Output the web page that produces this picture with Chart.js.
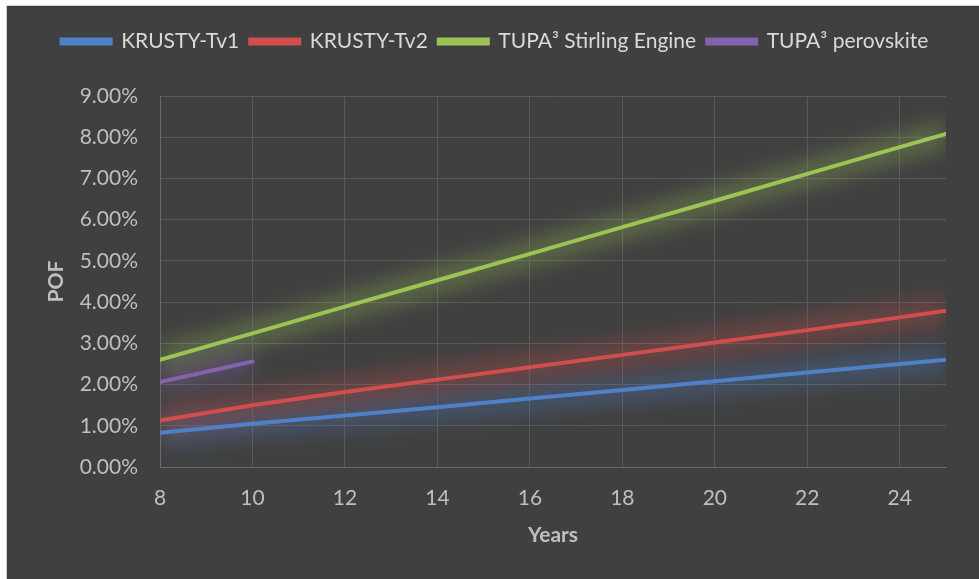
<!DOCTYPE html>
<html>
<head>
<meta charset="utf-8">
<script src="https://cdn.jsdelivr.net/npm/chart.js@4/dist/chart.umd.min.js"></script>
<style>
  html, body { margin: 0; padding: 0; background: #ffffff; width: 979px; height: 579px; overflow: hidden; }
  #panel { position: absolute; left: 6px; top: 5px; width: 973px; height: 574px; border-left: 1px solid #d0d0d0; border-top: 1px solid #d0d0d0; background: #404040; }
  #wrap { position: absolute; left: 0; top: 0; width: 972px; height: 573px; }
</style>
</head>
<body>
<div id="panel"><div id="wrap"><canvas id="c"></canvas></div></div>
<script>
// ---- data (values in %) ----
const years = [8, 10, 12, 14, 16, 18, 20, 22, 24, 25];
const krustyTv1 = [0.83, 1.05, 1.25, 1.45, 1.66, 1.87, 2.08, 2.29, 2.50, 2.60];
const krustyTv2 = [1.13, 1.50, 1.82, 2.12, 2.42, 2.72, 3.02, 3.32, 3.63, 3.79];
const tupaStirling = [2.60, 3.24, 3.89, 4.53, 5.17, 5.82, 6.46, 7.11, 7.76, 8.08];
const perovskiteYears = [8, 9, 10];
const tupaPerovskite = [2.06, 2.31, 2.56];
const seriesNames = ['KRUSTY-Tv1', 'KRUSTY-Tv2', 'TUPA\u00B3 Stirling Engine', 'TUPA\u00B3 perovskite'];
const xTickValues = [8, 10, 12, 14, 16, 18, 20, 22, 24];
const yTickValues = [0, 1, 2, 3, 4, 5, 6, 7, 8, 9];

const colors = ['#4f81c9', '#d04f4c', '#9bc455', '#8462ad'];
const FONT = 'Lato, "Open Sans", sans-serif';
const FS = 21;

function pts(xs, ys) { return xs.map((x, i) => ({ x: x, y: ys[i] })); }

const glowPlugin = {
  id: 'glow',
  beforeDatasetsDraw(chart) {
    const ctx = chart.ctx, a = chart.chartArea;
    ctx.save();
    ctx.beginPath();
    ctx.rect(a.left, a.top, a.right - a.left, a.bottom - a.top);
    ctx.clip();
    chart.data.datasets.forEach((ds, i) => {
      const meta = chart.getDatasetMeta(i);
      if (!meta.data.length) return;
      ctx.save();
      ctx.filter = 'blur(10px)';
      ctx.globalAlpha = 0.3;
      ctx.strokeStyle = ds.borderColor;
      ctx.lineWidth = 28;
      ctx.lineCap = 'butt';
      ctx.beginPath();
      meta.data.forEach((p, j) => { if (j === 0) ctx.moveTo(p.x, p.y); else ctx.lineTo(p.x, p.y); });
      ctx.stroke();
      ctx.restore();
    });
    ctx.restore();
  }
};

const legendHeight = {
  id: 'legendHeight',
  beforeInit(chart) {
    const orig = chart.legend.fit;
    chart.legend.fit = function () { orig.bind(chart.legend)(); this.height = 76; };
  }
};

const datasets = [
  { label: seriesNames[0], data: pts(years, krustyTv1) },
  { label: seriesNames[1], data: pts(years, krustyTv2) },
  { label: seriesNames[2], data: pts(years, tupaStirling) },
  { label: seriesNames[3], data: pts(perovskiteYears, tupaPerovskite) }
].map((d, i) => Object.assign(d, {
  borderColor: colors[i], backgroundColor: colors[i], borderWidth: 4,
  pointRadius: 0, pointHoverRadius: 0, tension: 0, borderCapStyle: 'round', fill: false
}));

new Chart(document.getElementById('c'), {
  type: 'line',
  data: { datasets: datasets },
  plugins: [glowPlugin, legendHeight],
  options: {
    responsive: true,
    maintainAspectRatio: false,
    animation: false,
    layout: { padding: { top: 14, right: 33, bottom: 27, left: 37 } },
    plugins: {
      legend: {
        position: 'top',
        labels: {
          color: '#d9d9d9',
          font: { family: FONT, size: FS },
          boxWidth: 49, boxHeight: 4, padding: 11
        }
      },
      tooltip: { enabled: false }
    },
    scales: {
      x: {
        type: 'linear', min: 8, max: 25,
        afterBuildTicks(scale) { scale.ticks = xTickValues.map(v => ({ value: v })); },
        afterFit(scale) { scale.height = 85; },
        ticks: { color: '#bfbfbf', font: { family: FONT, size: FS }, padding: 19, maxRotation: 0 },
        grid: { color: '#595959', lineWidth: 1, drawTicks: false },
        border: { color: '#6a6a6a', width: 1 },
        title: { display: true, text: 'Years', color: '#bfbfbf', font: { family: FONT, size: FS, weight: 'bold' }, padding: { top: 4, bottom: 4 } }
      },
      y: {
        min: 0, max: 9,
        afterBuildTicks(scale) { scale.ticks = yTickValues.map(v => ({ value: v })); },
        afterFit(scale) { scale.width = 116; },
        ticks: { color: '#bfbfbf', font: { family: FONT, size: FS }, padding: 22, callback: v => v.toFixed(2) + '%' },
        grid: { color: '#595959', lineWidth: 1, drawTicks: false },
        border: { color: '#6a6a6a', width: 1 },
        title: { display: true, text: 'POF', color: '#bfbfbf', font: { family: FONT, size: FS, weight: 'bold' }, padding: 0 }
      }
    }
  }
});
</script>
</body>
</html>
